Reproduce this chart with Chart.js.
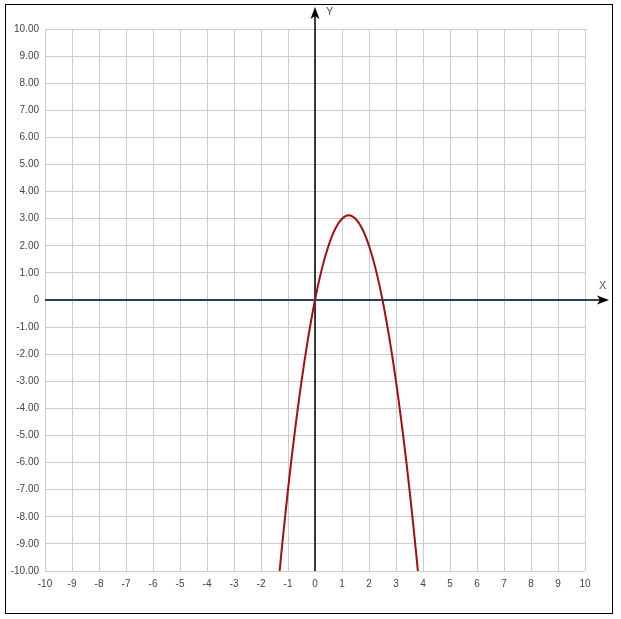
<!DOCTYPE html>
<html>
<head>
<meta charset="utf-8">
<script src="https://cdn.jsdelivr.net/npm/chart.js@4.4.1/dist/chart.umd.min.js"></script>
<style>
  html, body { margin: 0; padding: 0; background: #fff; }
  #wrap { width: 621px; height: 619px; position: relative; }
</style>
</head>
<body>
<div id="wrap"><canvas id="myChart" width="621" height="619"></canvas></div>
<script>
// values
const curveX = [-1.31, -1.25, -1, -0.75, -0.5, -0.25, 0, 0.25, 0.5, 0.75, 1, 1.25, 1.5, 1.75, 2, 2.25, 2.5, 2.75, 3, 3.25, 3.5, 3.75, 3.81];
const curveY = [-10, -9.38, -7, -4.88, -3, -1.38, 0, 1.13, 2, 2.63, 3, 3.13, 3, 2.63, 2, 1.13, 0, -1.38, -3, -4.88, -7, -9.38, -10];
const zeroX = [-10, 10];
const zeroY = [0, 0];
const axisMin = -10;
const axisMax = 10;

const toPoints = (xs, ys) => xs.map((x, i) => ({x: x, y: ys[i]}));

// frame, axes with arrows and the X / Y labels
const decor = {
    id: 'decor',
    beforeDatasetsDraw(chart) {
        const ctx = chart.ctx;
        const area = chart.chartArea;
        const x0 = chart.scales.x.getPixelForValue(0);
        const y0 = chart.scales.y.getPixelForValue(0);
        ctx.save();
        ctx.strokeStyle = '#000';
        ctx.fillStyle = '#000';
        ctx.lineWidth = 1.5;
        ctx.beginPath();
        ctx.moveTo(x0, area.bottom);
        ctx.lineTo(x0, 16);
        ctx.moveTo(area.left, y0);
        ctx.lineTo(600, y0);
        ctx.stroke();
        ctx.beginPath();
        ctx.moveTo(x0, 7);
        ctx.lineTo(x0 - 4.5, 19);
        ctx.lineTo(x0, 16);
        ctx.lineTo(x0 + 4.5, 19);
        ctx.closePath();
        ctx.fill();
        ctx.beginPath();
        ctx.moveTo(609, y0);
        ctx.lineTo(597, y0 - 4.5);
        ctx.lineTo(600, y0);
        ctx.lineTo(597, y0 + 4.5);
        ctx.closePath();
        ctx.fill();
        ctx.fillStyle = '#555';
        ctx.font = '11px "Liberation Sans", Arial, sans-serif';
        ctx.textBaseline = 'middle';
        ctx.fillText('Y', x0 + 11, 12);
        ctx.fillText('X', 599, y0 - 14);
        ctx.restore();
    },
    afterDraw(chart) {
        const ctx = chart.ctx;
        ctx.save();
        ctx.strokeStyle = '#000';
        ctx.lineWidth = 1;
        ctx.strokeRect(5.5, 4.5, 607, 609);
        ctx.restore();
    }
};

const config = {
    type: 'scatter',
    data: {
        datasets: [
            {
                label: 'y = 0',
                data: toPoints(zeroX, zeroY),
                showLine: true,
                borderColor: '#24406c',
                borderWidth: 2,
                pointRadius: 0
            },
            {
                label: 'curve',
                data: toPoints(curveX, curveY),
                showLine: true,
                borderColor: '#a01010',
                borderWidth: 2,
                pointRadius: 0,
                tension: 0.4
            }
        ]
    },
    options: {
        responsive: false,
        animation: false,
        layout: { padding: { left: 0, top: 29, right: 36, bottom: 0 } },
        plugins: {
            legend: { display: false },
            tooltip: { enabled: false }
        },
        scales: {
            x: {
                type: 'linear',
                min: axisMin,
                max: axisMax,
                afterFit: (scale) => { scale.height = 48; },
                grid: { color: '#cccccc', drawTicks: false },
                border: { display: false },
                ticks: {
                    stepSize: 1,
                    padding: 7,
                    color: '#444',
                    font: { family: '"Liberation Sans", Arial, sans-serif', size: 10 },
                    maxRotation: 0,
                    autoSkip: false
                }
            },
            y: {
                type: 'linear',
                min: axisMin,
                max: axisMax,
                afterFit: (scale) => { scale.width = 45; },
                grid: { color: '#cccccc', drawTicks: false },
                border: { display: false },
                ticks: {
                    stepSize: 1,
                    padding: 6,
                    color: '#444',
                    font: { family: '"Liberation Sans", Arial, sans-serif', size: 10 },
                    autoSkip: false,
                    callback: (v) => v === 0 ? '0' : v.toFixed(2)
                }
            }
        }
    },
    plugins: [decor]
};

const myChart = new Chart(document.getElementById('myChart'), config);
</script>
</body>
</html>
